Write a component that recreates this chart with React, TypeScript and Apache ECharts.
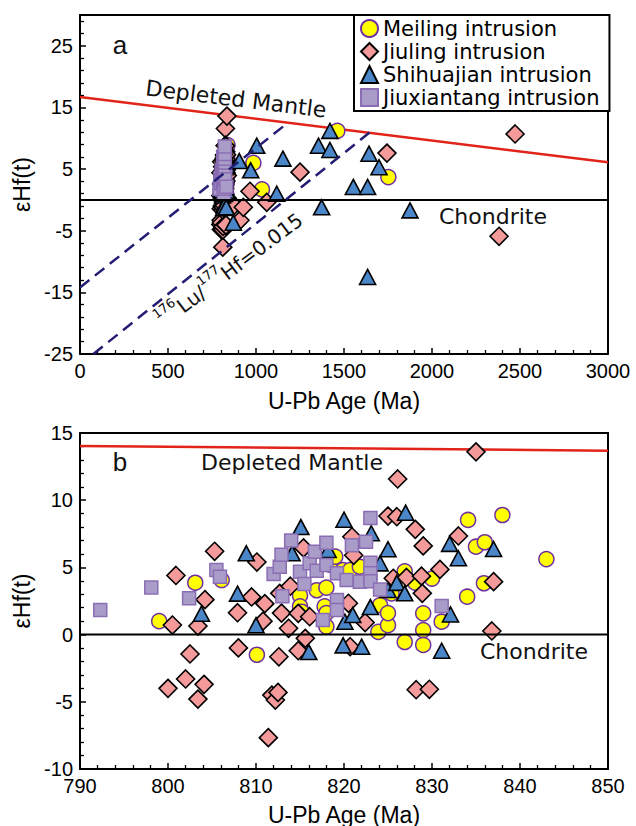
import React, { useEffect, useRef } from 'react';
import * as echarts from 'echarts';

// ---------- data ----------
const seriesNames = ['Meiling intrusion', 'Jiuling intrusion', 'Shihuajian intrusion', 'Jiuxiantang intrusion'];

// U-Pb age (Ma), εHf(t) — main Neoproterozoic population (shown in both panels)
const meiling: number[][] = [
  [799.0, 1.0], [803.1, 3.86], [806.1, 4.06], [810.1, -1.5], [815.0, 2.9], [815.0, 2.1], [815.2, 1.7],
  [816.9, 3.3], [817.8, 2.1], [818.0, 3.5], [818.0, 1.6], [818.0, 0.6], [818.4, 5.2], [819.0, 5.8],
  [819.9, 4.8], [820.7, 4.8], [821.8, 5.05], [823.9, 0.2], [824.1, 2.2], [825.0, 0.7], [825.0, 1.6],
  [825.4, 3.07], [826.9, 4.7], [826.9, -0.55], [828.1, 3.86], [829.0, 1.58], [829.0, 0.34], [829.0, -0.77],
  [830.0, 4.17], [831.1, 0.96], [834.0, 2.82], [834.1, 8.53], [835.0, 6.54], [836.0, 6.87], [835.9, 3.82],
  [838.0, 8.9], [843.0, 5.62],
];
const jiuling: number[][] = [
  [800.0, -4.0], [800.5, 0.71], [800.9, 4.4], [802.0, -3.3], [802.5, -1.44], [803.4, 0.64], [803.4, -4.8],
  [804.1, -3.7], [804.2, 2.6], [805.3, 6.2], [807.9, 1.63], [808.0, -0.99], [809.5, 2.8], [810.1, 5.4],
  [810.8, 1.0], [811.0, 2.3], [811.4, -7.67], [811.8, -4.5], [812.2, -4.87], [812.5, -4.3], [812.6, -1.65],
  [812.7, 3.07], [812.9, 1.6], [813.7, 0.47], [813.9, 3.6], [814.8, 1.58], [814.8, -1.2], [815.4, 6.45],
  [815.6, -0.28], [816.1, 1.33], [820.5, 2.33], [820.7, -0.9], [820.9, 7.28], [821.1, 5.9], [822.4, 0.9],
  [825.0, 8.82], [825.6, 4.19], [826.0, 8.77], [826.1, 11.58], [827.1, 4.25], [828.1, 7.83], [828.2, -4.1],
  [828.8, 4.35], [828.9, 3.07], [829.0, 6.6], [829.7, -4.07], [830.9, 4.85], [833.0, 7.34], [835.0, 13.6],
  [836.8, 0.27], [837.0, 3.94],
];
const shihuajian: number[][] = [
  [803.8, 1.55], [807.9, 3.05], [808.9, 6.05], [810.0, 0.7], [814.1, 6.05], [815.1, 8.0], [816.0, -1.3],
  [818.2, 6.3], [819.9, -0.8], [820.0, 8.55], [820.1, 0.96], [821.0, 1.46], [822.0, -0.9], [823.0, 2.05],
  [823.1, 7.54], [824.1, 5.3], [825.0, 3.32], [825.0, 6.35], [826.0, 3.85], [826.9, 3.07], [827.0, 9.07],
  [831.1, -1.2], [832.0, 6.75], [832.1, 1.5], [833.0, 5.68], [837.0, 6.37],
];
const jiuxiantang: number[][] = [
  [792.3, 1.83], [798.1, 3.5], [802.4, 2.7], [805.5, 4.8], [805.9, 4.3], [812.0, 4.5], [812.7, 5.05],
  [812.9, 5.95], [813.0, 2.85], [814.0, 7.0], [815.0, 4.68], [815.5, 3.76], [816.1, 5.3], [816.7, 6.17],
  [816.9, 4.75], [817.6, 1.09], [818.0, 6.84], [818.0, 5.18], [819.2, 4.56], [819.2, 2.57], [819.2, 1.83],
  [820.3, 4.06], [820.9, 6.65], [821.8, 3.94], [822.5, 6.91], [823.0, 8.68], [823.0, 5.35], [823.0, 4.56],
  [823.0, 3.97], [824.1, 3.35], [831.1, 2.13],
];

// older inherited grains (panel a only)
const meilingOld: number[][] = [[985, 6.0], [1034, 1.7], [1462, 11.2], [1752, 3.7]];
const jiulingOld: number[][] = [
  [875, -0.9], [909, -3.3], [928, -1.2], [966, 1.4], [1061, -0.4], [1250, 4.5], [1744, 7.6], [2381, -5.9], [2472, 10.7],
];
const shihuajianOld: number[][] = [
  [871, -3.7], [905, 6.3], [970, 4.8], [1004, 8.8], [1118, 1.0], [1153, 6.7], [1355, 8.8], [1373, -1.2],
  [1420, 11.2], [1420, 8.1], [1553, 2.1], [1634, 2.1], [1634, -12.5], [1642, 7.5], [1699, 5.3], [1875, -1.7],
];
const jiuxiantangOld: number[][] = [];

// reference lines
const depletedMantleA: number[][] = [[0, 16.7], [3000, 6.1]];
const chondriteA: number[][] = [[0, 0], [3000, 0]];
const luHfUpper: number[][] = [[0, -14.2], [1176, 12.4]];
const luHfLower: number[][] = [[76, -25], [1648, 11.0]];
const depletedMantleB: number[][] = [[790, 14.03], [850, 13.68]];
const chondriteB: number[][] = [[790, 0], [850, 0]];

// axis ranges / ticks [min, max, interval]
const xRangeA = [0, 3000, 500];
const yRangeA = [-25, 30, 10];
const xRangeB = [790, 850, 10];
const yRangeB = [-10, 15, 5];

// ---------- styling ----------
const FONT = "'Liberation Sans', Arial, sans-serif";
const WIDE = "'DejaVu Sans', Verdana, sans-serif";

const symbolStyles: any[] = [
  { symbol: 'circle', symbolSize: 15, itemStyle: { color: '#ffff00', borderColor: '#7030a0', borderWidth: 1.5, opacity: 1 } },
  { symbol: 'diamond', symbolSize: [18, 18], itemStyle: { color: '#f49a9a', borderColor: '#000', borderWidth: 1.6, opacity: 1 } },
  { symbol: 'triangle', symbolSize: [16, 15], itemStyle: { color: '#4a86c8', borderColor: '#000', borderWidth: 1.6, opacity: 1 } },
  { symbol: 'rect', symbolSize: 13, itemStyle: { color: '#a99cc9', borderColor: '#8a6db3', borderWidth: 1.5, opacity: 1 } },
];

function axis(gridIndex: number, range: number[], name: string, nameGap: number, extra: any = {}) {
  return {
    type: 'value',
    gridIndex,
    min: range[0],
    max: range[1],
    interval: range[2],
    name,
    nameLocation: 'middle',
    nameGap,
    nameTextStyle: { color: '#000', fontSize: 23, fontFamily: FONT },
    axisLine: { show: true, onZero: false, lineStyle: { color: '#000', width: 2 } },
    axisTick: { show: true, inside: true, length: 6, lineStyle: { color: '#000', width: 1.5 } },
    minorTick: { show: true, splitNumber: 5, length: 4, lineStyle: { color: '#000', width: 1.3 } },
    axisLabel: {
      show: true,
      color: '#000',
      fontSize: 20,
      fontFamily: FONT,
      margin: 7,
      formatter: (v: number) => String(v),
      ...(extra.axisLabel || {}),
    },
    splitLine: { show: false },
  };
}

// frame-only axes (top / right borders)
function frameAxis(gridIndex: number, range: number[], position: string) {
  return {
    type: 'value',
    gridIndex,
    position,
    min: range[0],
    max: range[1],
    interval: range[2],
    axisLine: { show: true, onZero: false, lineStyle: { color: '#000', width: 2 } },
    axisTick: { show: false },
    minorTick: { show: false },
    axisLabel: { show: false },
    splitLine: { show: false },
  };
}

function lineSeries(data: number[][], gi: number, color: string, width: number, type: any, z: number) {
  return {
    type: 'line',
    xAxisIndex: gi,
    yAxisIndex: gi,
    data,
    symbol: 'none',
    silent: true,
    z,
    lineStyle: { color, width, type },
    clip: true,
  };
}

function scatterSeries(idx: number, data: number[][], gi: number) {
  return {
    type: 'scatter',
    name: seriesNames[idx],
    xAxisIndex: gi,
    yAxisIndex: gi,
    data,
    z: 2,
    clip: true,
    ...symbolStyles[idx],
  };
}

function text(txt: string, x: number, y: number, size: number, family: string, rotationDeg = 0) {
  return {
    type: 'text',
    x,
    y,
    rotation: (rotationDeg * Math.PI) / 180,
    z: 10,
    style: { text: txt, fill: '#111', fontSize: size, fontFamily: family, align: 'center', verticalAlign: 'middle' },
  };
}

function buildOption(): any {
  const mainA = [
    meiling.concat(meilingOld),
    jiuling.concat(jiulingOld),
    shihuajian.concat(shihuajianOld),
    jiuxiantang.concat(jiuxiantangOld),
  ];
  const mainB = [meiling, jiuling, shihuajian, jiuxiantang];
  return {
    animation: false,
    backgroundColor: '#fff',
    grid: [
      { left: 80, top: 15, width: 528, height: 339, show: false, containLabel: false, outerBoundsMode: 'none' },
      { left: 80, top: 433, width: 528, height: 336, show: false, containLabel: false, outerBoundsMode: 'none' },
    ],
    xAxis: [
      axis(0, xRangeA, 'U-Pb Age (Ma)', 35),
      axis(1, xRangeB, 'U-Pb Age (Ma)', 34),
      frameAxis(0, xRangeA, 'top'),
      frameAxis(1, xRangeB, 'top'),
    ],
    yAxis: [
      axis(0, yRangeA, 'εHf(t)', 45, { axisLabel: { showMaxLabel: false } }),
      axis(1, yRangeB, 'εHf(t)', 45),
      frameAxis(0, yRangeA, 'right'),
      frameAxis(1, yRangeB, 'right'),
    ],
    legend: {
      data: seriesNames,
      orient: 'vertical',
      left: 354,
      top: 15,
      itemWidth: 17,
      itemHeight: 17,
      itemGap: 2,
      padding: [3, 10, 3, 6],
      backgroundColor: '#fff',
      borderColor: '#000',
      borderWidth: 2,
      borderRadius: 0,
      selectedMode: false,
      textStyle: { color: '#000', fontSize: 21, fontFamily: WIDE },
    },
    series: [
      lineSeries(depletedMantleA, 0, '#e2231a', 2.5, 'solid', 1),
      ...mainA.map((d, i) => scatterSeries(i, d, 0)),
      lineSeries(chondriteA, 0, '#000', 2, 'solid', 3),
      lineSeries(luHfUpper, 0, '#231d73', 2.5, [12, 7], 3),
      lineSeries(luHfLower, 0, '#231d73', 2.5, [12, 7], 3),
      lineSeries(depletedMantleB, 1, '#e2231a', 2.5, 'solid', 1),
      ...mainB.map((d, i) => scatterSeries(i, d, 1)),
      lineSeries(chondriteB, 1, '#000', 2, 'solid', 3),
    ],
    graphic: [
      text('a', 120, 45, 26, FONT),
      text('Depleted Mantle', 236, 99, 22, WIDE, -7),
      text('Chondrite', 493, 216, 22, WIDE),
      {
        type: 'text',
        x: 228,
        y: 268,
        rotation: (37 * Math.PI) / 180,
        z: 10,
        style: {
          text: '{s|176}{n|Lu/}{s|177}{n|Hf=0.015}',
          fill: '#111',
          align: 'center',
          verticalAlign: 'middle',
          fontFamily: WIDE,
          rich: {
            s: { fontSize: 13, fontFamily: WIDE, fill: '#111', verticalAlign: 'top', lineHeight: 13 },
            n: { fontSize: 20, fontFamily: WIDE, fill: '#111', verticalAlign: 'bottom', lineHeight: 26 },
          },
        },
      },
      text('b', 120, 462, 26, FONT),
      text('Depleted Mantle', 292, 462, 22, WIDE),
      text('Chondrite', 534, 651, 22, WIDE),
    ],
  };
}

export default function App() {
  const ref = useRef<HTMLDivElement>(null);
  useEffect(() => {
    if (!ref.current) return;
    const chart = echarts.init(ref.current, undefined, { renderer: 'svg' });
    chart.setOption(buildOption());
    return () => chart.dispose();
  }, []);
  return (
    <div
      ref={ref}
      style={{ position: 'fixed', left: 0, top: 0, width: 636, height: 826, background: '#fff' }}
    />
  );
}
